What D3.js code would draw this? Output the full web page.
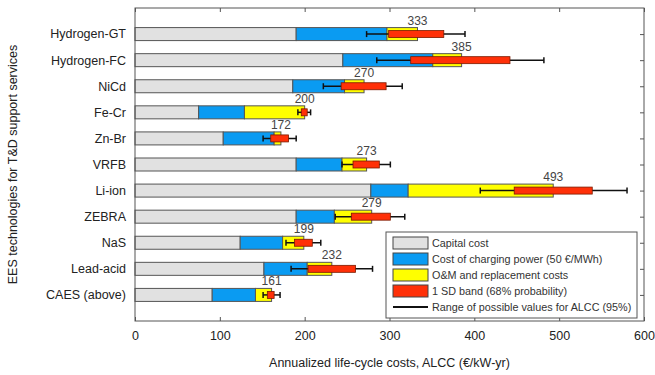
<!DOCTYPE html>
<html>
<head>
<meta charset="utf-8">
<script src="https://cdn.jsdelivr.net/npm/d3@7"></script>
<style>
  body { margin: 0; background: #fff; }
  text { font-family: "Liberation Sans", Arial, sans-serif; fill: #222; }
</style>
</head>
<body>
<svg width="655" height="375"></svg>
<script>
var width = 655;
var height = 375;
var margin = {top: 8, right: 11, bottom: 54, left: 135};

// technologies, top to bottom
var techs = ['Hydrogen-GT', 'Hydrogen-FC', 'NiCd', 'Fe-Cr', 'Zn-Br', 'VRFB', 'Li-ion', 'ZEBRA', 'NaS', 'Lead-acid', 'CAES (above)'];
// cost components (€/kW-yr)
var capital  = [190, 245, 186, 75, 104, 190, 278, 190, 124, 152, 91];
var charging = [107, 106, 61, 54, 60, 54, 44, 45, 50, 51, 51];
var totals   = [333, 385, 270, 200, 172, 273, 493, 279, 199, 232, 161];
// 1 SD band
var sdLow  = [299, 325, 243, 196, 160, 257, 447, 255, 188, 204, 156];
var sdHigh = [364, 442, 296, 203, 181, 288, 539, 301, 209, 260, 164];
// range of possible values (95%)
var rangeLow  = [273, 285, 222, 192, 151, 244, 407, 236, 178, 184, 151];
var rangeHigh = [389, 482, 315, 207, 190, 301, 580, 318, 219, 280, 171];

var xTicks = [0, 100, 200, 300, 400, 500, 600];

var colors = {capital: '#e1e1e1', charging: '#0a9bf2', om: '#ffff00', sd: '#ff3008'};

var legendItems = [
    {label: 'Capital cost', color: colors.capital},
    {label: 'Cost of charging power (50 €/MWh)', color: colors.charging},
    {label: 'O&M and replacement costs', color: colors.om},
    {label: '1 SD band (68% probability)', color: colors.sd},
    {label: 'Range of possible values for ALCC (95%)', line: true}
];

var svg = d3.select('svg');
var innerW = width - margin.left - margin.right;
var innerH = height - margin.top - margin.bottom;

var x = d3.scaleLinear().domain([0, 600]).range([0, innerW]);
var y = d3.scalePoint().domain(techs).range([0, innerH]).padding(1);

var g = svg.append('g')
    .attr('transform', `translate(${margin.left}, ${margin.top})`);

var barH = 13;
var sdH = 7;

var rows = techs.map((t, i) => ({
    name: t,
    segs: [
        {x0: 0, x1: capital[i], c: colors.capital},
        {x0: capital[i], x1: capital[i] + charging[i], c: colors.charging},
        {x0: capital[i] + charging[i], x1: totals[i], c: colors.om}
    ],
    total: totals[i],
    sd: [sdLow[i], sdHigh[i]],
    range: [rangeLow[i], rangeHigh[i]]
}));

var row = g.selectAll('.row')
    .data(rows)
    .enter()
    .append('g')
        .classed('row', true)
        .attr('transform', d => `translate(0, ${y(d.name)})`);

row.selectAll('.seg')
    .data(d => d.segs)
    .enter()
    .append('rect')
        .classed('seg', true)
        .attr('x', d => x(d.x0))
        .attr('y', -barH / 2)
        .attr('width', d => x(d.x1) - x(d.x0))
        .attr('height', barH)
        .attr('fill', d => d.c)
        .attr('stroke', '#555')
        .attr('stroke-width', 1);

// whisker line
row.append('line')
    .attr('x1', d => x(d.range[0]))
    .attr('x2', d => x(d.range[1]))
    .attr('stroke', '#111')
    .attr('stroke-width', 1.5);

row.selectAll('.cap')
    .data(d => d.range)
    .enter()
    .append('line')
        .classed('cap', true)
        .attr('x1', d => x(d))
        .attr('x2', d => x(d))
        .attr('y1', -3)
        .attr('y2', 3)
        .attr('stroke', '#111')
        .attr('stroke-width', 1.5);

row.append('rect')
    .attr('x', d => x(d.sd[0]))
    .attr('y', -sdH / 2)
    .attr('width', d => x(d.sd[1]) - x(d.sd[0]))
    .attr('height', sdH)
    .attr('fill', colors.sd)
    .attr('stroke', '#7a1a00')
    .attr('stroke-width', 0.8);

row.append('text')
    .attr('x', d => x(d.total))
    .attr('y', -barH / 2 - 3)
    .attr('text-anchor', 'middle')
    .style('font-size', '12px')
    .style('fill', '#444')
    .text(d => d.total);

// category labels
g.selectAll('.cat')
    .data(techs)
    .enter()
    .append('text')
        .classed('cat', true)
        .attr('x', -9)
        .attr('y', d => y(d))
        .attr('dy', '0.35em')
        .attr('text-anchor', 'end')
        .style('font-size', '12.5px')
        .text(d => d);

// frame with inward ticks
g.append('rect')
    .attr('width', innerW)
    .attr('height', innerH)
    .attr('fill', 'none')
    .attr('stroke', '#555')
    .attr('stroke-width', 1);

var xAxis = d3.axisBottom(x).tickValues(xTicks).tickSizeInner(-4).tickSizeOuter(0).tickPadding(10);
g.append('g')
    .attr('transform', `translate(0, ${innerH})`)
    .call(xAxis)
    .call(a => a.select('.domain').remove())
    .call(a => a.selectAll('line').attr('stroke', '#555'))
    .call(a => a.selectAll('text').style('font-size', '12.5px').style('font-family', '"Liberation Sans", Arial, sans-serif').attr('fill', '#222'));

g.append('g')
    .call(d3.axisTop(x).tickValues(xTicks).tickSizeInner(-4).tickSizeOuter(0).tickFormat(''))
    .call(a => a.select('.domain').remove())
    .call(a => a.selectAll('line').attr('stroke', '#555'));

g.append('g')
    .attr('transform', `translate(${innerW}, 0)`)
    .call(d3.axisRight(y).tickSizeInner(-4).tickSizeOuter(0).tickFormat(''))
    .call(a => a.select('.domain').remove())
    .call(a => a.selectAll('line').attr('stroke', '#555'));

// axis titles
svg.append('text')
    .attr('x', margin.left + innerW / 2)
    .attr('y', 367)
    .attr('text-anchor', 'middle')
    .style('font-size', '12.5px')
    .text('Annualized life-cycle costs, ALCC (€/kW-yr)');

svg.append('text')
    .attr('transform', `translate(17, ${margin.top + innerH / 2}) rotate(-90)`)
    .attr('text-anchor', 'middle')
    .style('font-size', '12.5px')
    .text('EES technologies for T&D support services');

// legend
var legend = svg.append('g')
    .attr('transform', 'translate(386, 232)');

legend.append('rect')
    .attr('width', 251)
    .attr('height', 86)
    .attr('fill', '#fff')
    .attr('stroke', '#555');

var item = legend.selectAll('.item')
    .data(legendItems)
    .enter()
    .append('g')
        .classed('item', true)
        .attr('transform', (d, i) => `translate(7, ${11 + i * 16})`);

item.filter(d => !d.line)
    .append('rect')
        .attr('y', -6)
        .attr('width', 35)
        .attr('height', 12)
        .attr('fill', d => d.color)
        .attr('stroke', '#444');

item.filter(d => d.line)
    .append('line')
        .attr('x2', 35)
        .attr('stroke', '#111')
        .attr('stroke-width', 2);

item.append('text')
    .attr('x', 39)
    .attr('dy', '0.35em')
    .style('font-size', '10.8px')
    .style('fill', '#333')
    .text(d => d.label);
</script>
</body>
</html>
